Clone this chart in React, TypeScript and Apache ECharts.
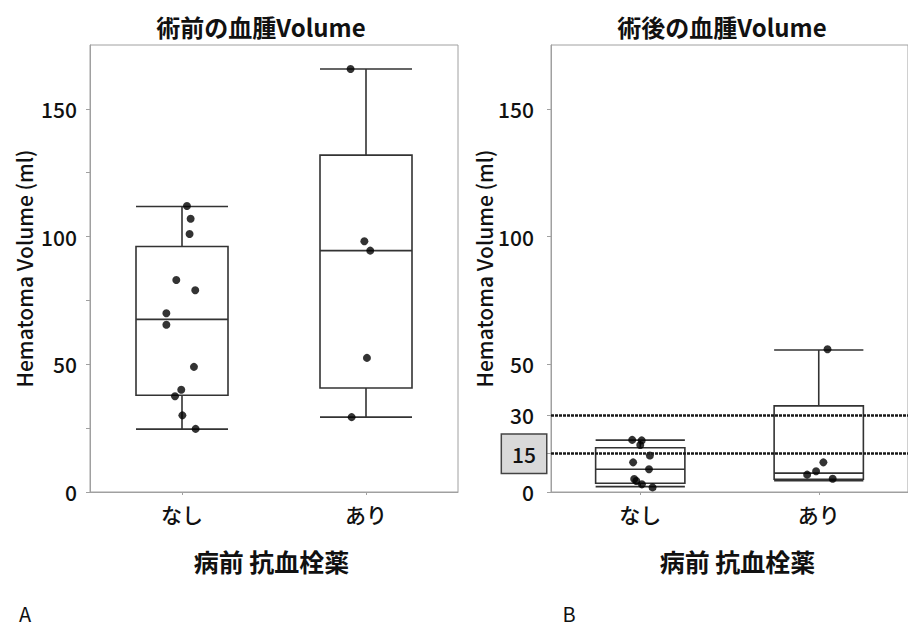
import React, { useEffect, useRef } from "react";
import * as echarts from "echarts";

const categories = ["なし", "あり"];
const titles = ["術前の血腫Volume", "術後の血腫Volume"];
const panelLetters = ["A", "B"];
const yAxisName = "Hematoma Volume (ml)";
const xAxisName = "病前 抗血栓薬";

// box statistics: [lower whisker, Q1, median, Q3, upper whisker]
const preBoxes = [
  [24.6, 37.9, 67.6, 96.1, 111.8],
  [29.3, 40.7, 94.5, 131.9, 165.6],
];
const postBoxes = [
  [2.1, 3.4, 8.9, 17.3, 20.3],
  [4.4, 5.0, 7.4, 33.7, 55.6],
];

// individual patients (value) and horizontal jitter (fraction of category width)
const preNashiValues = [112, 107, 101, 83, 79, 70, 65.5, 49, 40, 37.5, 30, 24.7];
const preNashiJitter = [0.027, 0.047, 0.041, -0.031, 0.072, -0.085, -0.085, 0.065, -0.004, -0.038, 0.002, 0.074];
const preAriValues = [165.6, 98.2, 94.5, 52.5, 29.3];
const preAriJitter = [-0.084, -0.009, 0.023, 0.005, -0.078];
const postNashiValues = [20.4, 20.2, 18.4, 14.3, 11.6, 8.9, 5.1, 4.3, 3.0, 1.8];
const postNashiJitter = [-0.045, 0.008, 0, 0.054, -0.04, 0.049, -0.034, -0.022, 0.009, 0.069];
const postAriValues = [55.9, 11.6, 8.1, 6.8, 5.2];
const postAriJitter = [0.049, 0.026, -0.015, -0.065, 0.078];

const preLabelTicks = [0, 50, 100, 150];
const preMinorTicks = [0, 25, 50, 75, 100, 125, 150];
const postLabelTicks = [0, 15, 30, 50, 100, 150];
const thresholds = [30, 15];
const highlightedTick = 15;
const yMax = 175;

const FONT = "'Noto Sans CJK JP', 'Noto Sans', sans-serif";
const TEXT = "#111111";
const AXIS = "#a0a0a0";
const BOX = "#333333";

const grids = [
  { left: 90, top: 45, width: 368, height: 447 },
  { left: 551, top: 45, width: 367, height: 447 },
];

function points(cat: number, values: number[], jitter: number[]) {
  return values.map((v, i) => [cat + 0.5 + jitter[i], v]);
}

export default function App() {
  const ref = useRef<HTMLDivElement>(null);
  useEffect(() => {
    if (!ref.current) return;
    const chart = echarts.init(ref.current, undefined, { renderer: "svg" });

    const catAxis = (g: number) => ({
      type: "category",
      gridIndex: g,
      data: categories,
      axisLine: { show: true, lineStyle: { color: AXIS, width: 1 } },
      axisTick: { show: true, alignWithLabel: true, length: 3, lineStyle: { color: AXIS } },
      axisLabel: { fontSize: 21, fontWeight: 500, color: TEXT, margin: 11, fontFamily: FONT },
      name: xAxisName,
      nameLocation: "middle",
      nameGap: 56,
      nameTextStyle: {
        fontSize: 25,
        fontWeight: "bold",
        color: TEXT,
        fontFamily: FONT,
        padding: g === 1 ? [0, 0, 0, 16] : [0, 0, 0, -5],
      },
    });
    const valX = (g: number) => ({ type: "value", gridIndex: g, min: 0, max: 2, show: false });

    const option: any = {
      animation: false,
      backgroundColor: "#ffffff",
      textStyle: { fontFamily: FONT },
      grid: grids.map((gr) => ({
        ...gr,
        show: true,
        borderColor: AXIS,
        borderWidth: 1,
        backgroundColor: "transparent",
        containLabel: false,
      })),
      xAxis: [catAxis(0), valX(0), catAxis(1), valX(1)],
      yAxis: [
        {
          type: "value",
          gridIndex: 0,
          min: 0,
          max: yMax,
          splitLine: { show: false },
          axisLine: { show: true, lineStyle: { color: AXIS } },
          axisTick: { show: true, length: 4, customValues: preMinorTicks, lineStyle: { color: AXIS } },
          axisLabel: {
            customValues: preLabelTicks,
            fontSize: 21,
            fontWeight: 500,
            color: TEXT,
            margin: 13,
            fontFamily: FONT,
          },
          name: yAxisName,
          nameLocation: "middle",
          nameRotate: 90,
          nameGap: 56,
          nameTextStyle: { fontSize: 21, fontWeight: 500, color: TEXT, fontFamily: FONT },
        },
        {
          type: "value",
          gridIndex: 1,
          min: 0,
          max: yMax,
          splitLine: { show: false },
          axisLine: { show: true, lineStyle: { color: AXIS } },
          axisTick: { show: true, length: 4, customValues: postLabelTicks, lineStyle: { color: AXIS } },
          axisLabel: {
            customValues: postLabelTicks,
            margin: 5,
            color: TEXT,
            fontFamily: FONT,
            fontSize: 21,
            fontWeight: 500,
            formatter: (v: number) => (v === highlightedTick ? `{box|${v}}` : `{n|${v}}`),
            rich: {
              n: { fontSize: 21, fontWeight: 500, color: TEXT, fontFamily: FONT, padding: [0, 12, 0, 0] },
              box: {
                fontSize: 21,
                fontWeight: 500,
                color: TEXT,
                fontFamily: FONT,
                backgroundColor: "#d9d9d9",
                borderColor: "#444",
                borderWidth: 1.5,
                padding: [9, 10, 8, 10],
              },
            },
          },
          name: yAxisName,
          nameLocation: "middle",
          nameRotate: 90,
          nameGap: 52,
          nameTextStyle: { fontSize: 21, fontWeight: 500, color: TEXT, fontFamily: FONT },
        },
      ],
      graphic: [
        ...titles.map((t, i) => ({
          type: "text",
          x: grids[i].left + 171,
          y: 26,
          style: {
            text: t,
            font: `bold 24px ${FONT}`,
            fill: TEXT,
            textAlign: "center",
            textVerticalAlign: "middle",
          },
        })),
        ...panelLetters.map((t, i) => ({
          type: "text",
          x: i === 0 ? 25 : 569,
          y: 613,
          style: {
            text: t,
            font: `20px ${FONT}`,
            fill: TEXT,
            textAlign: "center",
            textVerticalAlign: "middle",
          },
        })),
      ],
      series: [
        {
          type: "boxplot",
          xAxisIndex: 0,
          yAxisIndex: 0,
          data: preBoxes,
          boxWidth: ["50%", "50%"],
          silent: true,
          itemStyle: { color: "#ffffff", borderColor: BOX, borderWidth: 1.6 },
        },
        {
          type: "scatter",
          xAxisIndex: 1,
          yAxisIndex: 0,
          data: [...points(0, preNashiValues, preNashiJitter), ...points(1, preAriValues, preAriJitter)],
          symbolSize: 8,
          silent: true,
          itemStyle: { color: "#000000" },
        },
        {
          type: "boxplot",
          xAxisIndex: 2,
          yAxisIndex: 1,
          data: postBoxes,
          boxWidth: ["50%", "50%"],
          silent: true,
          itemStyle: { color: "#ffffff", borderColor: BOX, borderWidth: 1.6 },
        },
        {
          type: "scatter",
          xAxisIndex: 3,
          yAxisIndex: 1,
          data: [...points(0, postNashiValues, postNashiJitter), ...points(1, postAriValues, postAriJitter)],
          symbolSize: 8,
          silent: true,
          itemStyle: { color: "#000000" },
          markLine: {
            silent: true,
            symbol: ["none", "none"],
            label: { show: false },
            lineStyle: { color: "#1a1a1a", width: 2.5, type: [3, 1] },
            data: thresholds.map((t) => ({ yAxis: t })),
          },
        },
      ],
    };
    chart.setOption(option);
    return () => chart.dispose();
  }, []);
  return (
    <div
      ref={ref}
      style={{ position: "absolute", left: 0, top: 0, width: 908, height: 626, background: "#fff" }}
    />
  );
}
